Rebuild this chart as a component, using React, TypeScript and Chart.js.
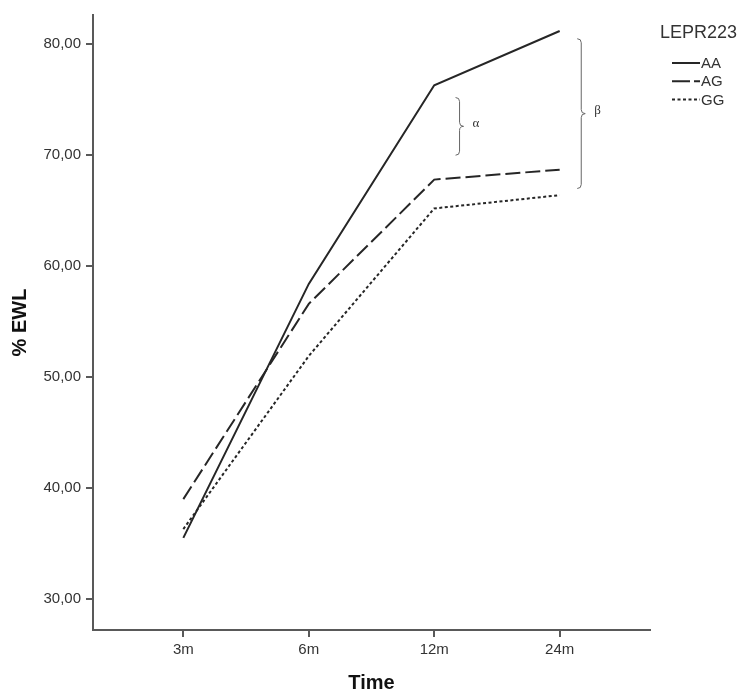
import React, { useEffect, useRef } from 'react';
import { Chart, registerables } from 'chart.js';

Chart.register(...registerables);

// ---- data ----
const timeLabels = ['3m', '6m', '12m', '24m'];
const aaValues = [35.5, 58.4, 76.3, 81.2];
const agValues = [39.0, 56.6, 67.8, 68.7];
const ggValues = [36.3, 51.9, 65.2, 66.4];
const yTicks = [30, 40, 50, 60, 70, 80];
const seriesNames = ['AA', 'AG', 'GG'];
const legendTitle = 'LEPR223';
const braceLabels = ['α', 'β'];
const braceX = [2.17, 3.14];
const braceTop = [75.2, 80.5];
const braceBottom = [70.0, 67.0];

const FONT = '"Liberation Sans", Arial, sans-serif';
const LINE_COLOR = '#262626';
const AXIS_COLOR = '#595959';
const TEXT_COLOR = '#333333';
const dashes: number[][] = [[], [15, 5], [3, 2.5]];

const toPoints = (vals: number[]) => vals.map((v, i) => ({ x: i, y: v }));

function drawBrace(ctx: CanvasRenderingContext2D, x0: number, yt: number, yb: number) {
  const w = 8;
  const r = 4;
  const xm = x0 + w / 2;
  const x1 = x0 + w;
  const ym = (yt + yb) / 2;
  ctx.beginPath();
  ctx.moveTo(x0, yt);
  ctx.quadraticCurveTo(xm, yt, xm, yt + r);
  ctx.lineTo(xm, ym - r);
  ctx.quadraticCurveTo(xm, ym, x1, ym);
  ctx.quadraticCurveTo(xm, ym, xm, ym + r);
  ctx.lineTo(xm, yb - r);
  ctx.quadraticCurveTo(xm, yb, x0, yb);
  ctx.stroke();
}

const overlayPlugin = {
  id: 'overlay',
  afterDraw(chart: any) {
    const ctx: CanvasRenderingContext2D = chart.ctx;
    const xs = chart.scales.x;
    const ys = chart.scales.y;
    ctx.save();
    // braces
    ctx.strokeStyle = '#666666';
    ctx.lineWidth = 1;
    ctx.setLineDash([]);
    braceLabels.forEach((lab, i) => {
      const x0 = xs.getPixelForValue(braceX[i]);
      const yt = ys.getPixelForValue(braceTop[i]);
      const yb = ys.getPixelForValue(braceBottom[i]);
      drawBrace(ctx, x0, yt, yb);
      ctx.fillStyle = TEXT_COLOR;
      ctx.font = '13px "Liberation Serif", "DejaVu Serif", serif';
      ctx.textAlign = 'left';
      ctx.textBaseline = 'middle';
      ctx.fillText(lab, x0 + 17, (yt + yb) / 2 - 3);
    });
    // legend
    ctx.fillStyle = TEXT_COLOR;
    ctx.font = `18px ${FONT}`;
    ctx.textAlign = 'left';
    ctx.textBaseline = 'middle';
    ctx.fillText(legendTitle, 660, 33);
    ctx.font = `15px ${FONT}`;
    seriesNames.forEach((name, i) => {
      const y = 63 + i * 18.3;
      ctx.strokeStyle = LINE_COLOR;
      ctx.lineWidth = 2;
      ctx.setLineDash(i === 1 ? [18, 4] : dashes[i]);
      ctx.beginPath();
      ctx.moveTo(672, y);
      ctx.lineTo(700, y);
      ctx.stroke();
      ctx.setLineDash([]);
      ctx.fillStyle = TEXT_COLOR;
      ctx.fillText(name, 701, y + 1);
    });
    ctx.restore();
  },
};

export default function App() {
  const ref = useRef<HTMLCanvasElement>(null);
  useEffect(() => {
    const series = [aaValues, agValues, ggValues];
    const chart = new Chart(ref.current as HTMLCanvasElement, {
      type: 'line',
      data: {
        datasets: series.map((vals, i) => ({
          label: seriesNames[i],
          data: toPoints(vals),
          borderColor: LINE_COLOR,
          backgroundColor: LINE_COLOR,
          borderWidth: 2,
          borderDash: dashes[i],
          pointRadius: 0,
          tension: 0,
          fill: false,
        })),
      },
      options: {
        responsive: false,
        animation: false,
        devicePixelRatio: 1,
        layout: { padding: { left: 0, top: 15, right: 90, bottom: 0 } },
        plugins: {
          legend: { display: false },
          tooltip: { enabled: false },
        },
        scales: {
          x: {
            type: 'linear',
            min: -0.72,
            max: 3.72,
            afterBuildTicks: (s: any) => {
              s.ticks = timeLabels.map((_, i) => ({ value: i }));
            },
            afterFit: (s: any) => {
              s.height = 63;
            },
            ticks: {
              callback: (v: any) => timeLabels[v] ?? '',
              color: TEXT_COLOR,
              font: { family: FONT, size: 15 },
              padding: 4,
              maxRotation: 0,
              autoSkip: false,
            },
            grid: { drawOnChartArea: false, drawTicks: true, tickLength: 7, color: AXIS_COLOR, lineWidth: 2 },
            border: { display: true, color: AXIS_COLOR, width: 2 },
            title: {
              display: true,
              text: 'Time',
              color: '#111111',
              font: { family: FONT, size: 20, weight: 'bold', lineHeight: 1 },
              padding: { top: 0, bottom: 0 },
            },
          },
          y: {
            type: 'linear',
            min: 27.2,
            max: 82.64,
            afterBuildTicks: (s: any) => {
              s.ticks = yTicks.map((v) => ({ value: v }));
            },
            afterFit: (s: any) => {
              s.width = 93;
            },
            ticks: {
              callback: (v: any) => Number(v).toFixed(2).replace('.', ','),
              color: TEXT_COLOR,
              font: { family: FONT, size: 15 },
              padding: 5,
            },
            grid: { drawOnChartArea: false, drawTicks: true, tickLength: 7, color: AXIS_COLOR, lineWidth: 2 },
            border: { display: true, color: AXIS_COLOR, width: 2 },
            title: {
              display: true,
              text: '% EWL',
              color: '#111111',
              font: { family: FONT, size: 20, weight: 'bold', lineHeight: 1 },
              padding: { top: 10, bottom: 0 },
            },
          },
        },
      } as any,
      plugins: [overlayPlugin],
    });
    return () => chart.destroy();
  }, []);
  return (
    <div style={{ position: 'fixed', left: 0, top: 0, width: 740, height: 693, background: '#ffffff' }}>
      <canvas ref={ref} width={740} height={693} style={{ display: 'block', width: 740, height: 693 }} />
    </div>
  );
}
